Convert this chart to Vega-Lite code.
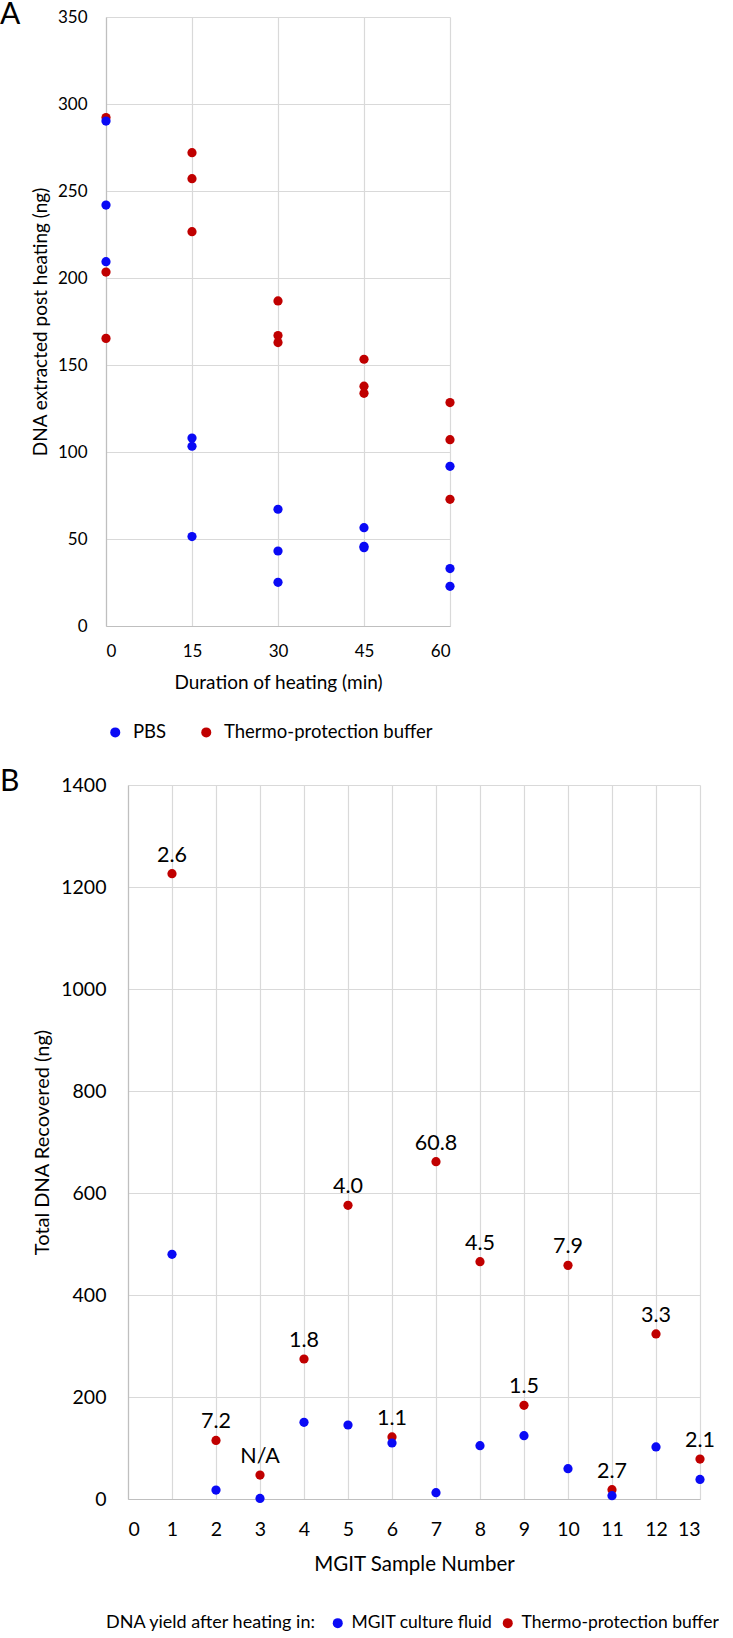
{
  "$schema": "https://vega.github.io/schema/vega-lite/v6.json",
  "padding": {"top": 0, "left": 0, "right": 0, "bottom": 0},
  "background": "white",
  "spacing": 25,
  "columns": 1,
  "align": "none",
  "resolve": {"scale": {"color": "independent"}, "legend": {"color": "independent"}},
  "config": {
    "font": "Lato",
    "view": {"stroke": null},
    "axis": {
      "gridColor": "#D9D9D9", "gridWidth": 1.2, "domainColor": "#BFBFBF", "domainWidth": 1.2,
      "labelColor": "#000", "titleColor": "#000", "labelFont": "Lato", "titleFont": "Lato",
      "titleFontWeight": "normal", "ticks": false, "tickSize": 0, "grid": true, "format": "d"
    },
    "legend": {"labelFont": "Lato", "titleFont": "Lato", "labelColor": "#000", "titleColor": "#000"}
  },
  "concat": [
    {
      "width": 344,
      "height": 609,
      "title": {"text": "A", "anchor": "start", "frame": "group", "dx": -106, "dy": 22, "offset": 0, "fontSize": 30, "fontWeight": "normal", "color": "#000", "font": "Lato"},
      "data": {"values": [
        {"minutes": 0, "buffer": "Thermo-protection buffer", "dna": 292.2},
        {"minutes": 0, "buffer": "Thermo-protection buffer", "dna": 203.4},
        {"minutes": 0, "buffer": "Thermo-protection buffer", "dna": 165.3},
        {"minutes": 15, "buffer": "Thermo-protection buffer", "dna": 272.0},
        {"minutes": 15, "buffer": "Thermo-protection buffer", "dna": 257.1},
        {"minutes": 15, "buffer": "Thermo-protection buffer", "dna": 226.6},
        {"minutes": 30, "buffer": "Thermo-protection buffer", "dna": 186.8},
        {"minutes": 30, "buffer": "Thermo-protection buffer", "dna": 166.9},
        {"minutes": 30, "buffer": "Thermo-protection buffer", "dna": 162.9},
        {"minutes": 45, "buffer": "Thermo-protection buffer", "dna": 153.3},
        {"minutes": 45, "buffer": "Thermo-protection buffer", "dna": 137.8},
        {"minutes": 45, "buffer": "Thermo-protection buffer", "dna": 133.7},
        {"minutes": 60, "buffer": "Thermo-protection buffer", "dna": 128.4},
        {"minutes": 60, "buffer": "Thermo-protection buffer", "dna": 107.1},
        {"minutes": 60, "buffer": "Thermo-protection buffer", "dna": 72.8},
        {"minutes": 0, "buffer": "PBS", "dna": 290.2},
        {"minutes": 0, "buffer": "PBS", "dna": 241.9},
        {"minutes": 0, "buffer": "PBS", "dna": 209.4},
        {"minutes": 15, "buffer": "PBS", "dna": 108.0},
        {"minutes": 15, "buffer": "PBS", "dna": 103.3},
        {"minutes": 15, "buffer": "PBS", "dna": 51.4},
        {"minutes": 30, "buffer": "PBS", "dna": 67.1},
        {"minutes": 30, "buffer": "PBS", "dna": 43.1},
        {"minutes": 30, "buffer": "PBS", "dna": 25.1},
        {"minutes": 45, "buffer": "PBS", "dna": 56.5},
        {"minutes": 45, "buffer": "PBS", "dna": 45.8},
        {"minutes": 45, "buffer": "PBS", "dna": 45.0},
        {"minutes": 60, "buffer": "PBS", "dna": 91.8},
        {"minutes": 60, "buffer": "PBS", "dna": 33.0},
        {"minutes": 60, "buffer": "PBS", "dna": 22.8}
      ]},
      "mark": {"type": "circle", "size": 85, "opacity": 1},
      "encoding": {
        "x": {"field": "minutes", "type": "quantitative", "scale": {"domain": [0, 60], "nice": false, "zero": false},
          "axis": {"values": [0, 15, 30, 45, 60], "title": "Duration of heating (min)", "labelFontSize": 17, "titleFontSize": 19, "labelPadding": 17, "titleY": 56, "titleBaseline": "middle"}},
        "y": {"field": "dna", "type": "quantitative", "scale": {"domain": [0, 350], "nice": false},
          "axis": {"values": [0, 50, 100, 150, 200, 250, 300, 350], "title": "DNA extracted post heating (ng)", "labelFontSize": 17, "titleFontSize": 19, "labelPadding": 19, "titleX": -66, "titleBaseline": "middle"}},
        "color": {"field": "buffer", "type": "nominal",
          "scale": {"domain": ["PBS", "Thermo-protection buffer"], "range": ["#0A0AF5", "#C00000"]},
          "legend": {"orient": "none", "legendX": 0, "legendY": 706, "direction": "horizontal", "title": null, "labelFontSize": 18.5, "symbolSize": 100, "symbolType": "circle", "columnPadding": 30, "labelOffset": 8.5, "labelLimit": 300}}
      }
    },
    {
      "width": 594,
      "height": 714,
      "title": {"text": "B", "anchor": "start", "frame": "group", "dx": -106, "dy": 22, "offset": 0, "fontSize": 30, "fontWeight": "normal", "color": "#000", "font": "Lato"},
      "data": {"values": [
        {"sample": 1, "buffer": "Thermo-protection buffer", "dna": 1226.2, "label": "2.6"},
        {"sample": 2, "buffer": "Thermo-protection buffer", "dna": 114.9, "label": "7.2"},
        {"sample": 3, "buffer": "Thermo-protection buffer", "dna": 47.0, "label": "N/A"},
        {"sample": 4, "buffer": "Thermo-protection buffer", "dna": 274.5, "label": "1.8"},
        {"sample": 5, "buffer": "Thermo-protection buffer", "dna": 575.8, "label": "4.0"},
        {"sample": 6, "buffer": "Thermo-protection buffer", "dna": 121.6, "label": "1.1"},
        {"sample": 7, "buffer": "Thermo-protection buffer", "dna": 661.4, "label": "60.8"},
        {"sample": 8, "buffer": "Thermo-protection buffer", "dna": 465.3, "label": "4.5"},
        {"sample": 9, "buffer": "Thermo-protection buffer", "dna": 183.6, "label": "1.5"},
        {"sample": 10, "buffer": "Thermo-protection buffer", "dna": 458.1, "label": "7.9"},
        {"sample": 11, "buffer": "Thermo-protection buffer", "dna": 18.2, "label": "2.7"},
        {"sample": 12, "buffer": "Thermo-protection buffer", "dna": 323.6, "label": "3.3"},
        {"sample": 13, "buffer": "Thermo-protection buffer", "dna": 78.4, "label": "2.1"},
        {"sample": 1, "buffer": "MGIT culture fluid", "dna": 479.7},
        {"sample": 2, "buffer": "MGIT culture fluid", "dna": 17.6},
        {"sample": 3, "buffer": "MGIT culture fluid", "dna": 1.2},
        {"sample": 4, "buffer": "MGIT culture fluid", "dna": 150.3},
        {"sample": 5, "buffer": "MGIT culture fluid", "dna": 145.1},
        {"sample": 6, "buffer": "MGIT culture fluid", "dna": 109.8},
        {"sample": 7, "buffer": "MGIT culture fluid", "dna": 12.4},
        {"sample": 8, "buffer": "MGIT culture fluid", "dna": 104.5},
        {"sample": 9, "buffer": "MGIT culture fluid", "dna": 124.1},
        {"sample": 10, "buffer": "MGIT culture fluid", "dna": 59.4},
        {"sample": 11, "buffer": "MGIT culture fluid", "dna": 6.5},
        {"sample": 12, "buffer": "MGIT culture fluid", "dna": 102.0},
        {"sample": 13, "buffer": "MGIT culture fluid", "dna": 38.4}
      ]},
      "encoding": {
        "x": {"field": "sample", "type": "quantitative", "scale": {"domain": [0, 13], "nice": false, "range": [22, 594]},
          "axis": {"values": [0, 1, 2, 3, 4, 5, 6, 7, 8, 9, 10, 11, 12, 13], "title": "MGIT Sample Number", "labelFontSize": 19.5, "titleFontSize": 20.5, "labelPadding": 21, "titleY": 65, "titleX": 308, "titleBaseline": "middle"}},
        "y": {"field": "dna", "type": "quantitative", "scale": {"domain": [0, 1400], "nice": false},
          "axis": {"offset": -22, "values": [0, 200, 400, 600, 800, 1000, 1200, 1400], "title": "Total DNA Recovered (ng)", "labelFontSize": 19.5, "titleFontSize": 20, "labelPadding": 22, "titleX": -86, "titleBaseline": "middle"}}
      },
      "layer": [
        {
          "mark": {"type": "circle", "size": 85, "opacity": 1},
          "encoding": {
            "color": {"field": "buffer", "type": "nominal",
              "scale": {"domain": ["MGIT culture fluid", "Thermo-protection buffer"], "range": ["#0A0AF5", "#C00000"]},
              "legend": {"orient": "none", "legendX": 0, "legendY": 829, "direction": "horizontal", "title": "DNA yield after heating in:", "titleOrient": "left", "titleFontSize": 18, "titleFontWeight": "normal", "titlePadding": 12, "titleLimit": 400, "labelFontSize": 17.5, "symbolSize": 100, "symbolType": "circle", "columnPadding": 6, "labelOffset": 5, "labelLimit": 300}}
          }
        },
        {
          "transform": [{"filter": "datum.buffer === 'Thermo-protection buffer'"}],
          "mark": {"type": "text", "dy": -18, "fontSize": 21.5, "color": "#000", "font": "Lato"},
          "encoding": {"text": {"field": "label", "type": "nominal"}}
        }
      ]
    }
  ]
}
